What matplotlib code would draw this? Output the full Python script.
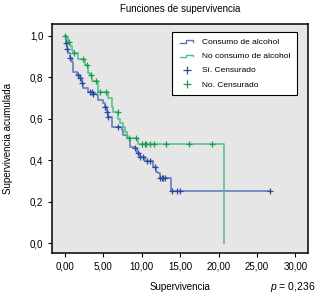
import numpy as np
import matplotlib.pyplot as plt
from matplotlib.legend_handler import HandlerBase
from matplotlib.lines import Line2D

plt.rcParams['font.family'] = ['Liberation Sans', 'DejaVu Sans']
plt.rcParams['mathtext.fontset'] = 'custom'
plt.rcParams['mathtext.it'] = 'Liberation Sans:italic'
plt.rcParams['mathtext.rm'] = 'Liberation Sans'

# Consumo de alcohol: tiempos de evento y supervivencia acumulada
t_si = [0, 0.13, 0.22, 0.43, 0.65, 0.87, 1.08, 1.52, 1.95, 2.17, 2.38, 3.03, 3.68,
        4.13, 4.34, 4.99, 5.21, 5.43, 5.64, 6.08, 7.38, 7.59, 8.11, 8.46, 9.11, 9.41,
        9.77, 10.42, 11.5, 11.85, 12.15, 12.37, 13.74, 26.7]
s_si = [1.0, 0.965, 0.936, 0.916, 0.892, 0.876, 0.828, 0.812, 0.796, 0.771, 0.747,
        0.731, 0.720, 0.715, 0.691, 0.675, 0.658, 0.634, 0.610, 0.562, 0.546, 0.522,
        0.506, 0.465, 0.457, 0.433, 0.417, 0.398, 0.369, 0.345, 0.337, 0.313, 0.253, 0.253]
cens_si = [0.15, 0.25, 0.7, 1.73, 1.98, 2.2, 3.26, 3.5, 3.7, 5.25, 5.45, 5.66, 6.94,
           9.15, 9.45, 9.8, 10.2, 10.64, 11.07, 11.72, 12.4, 12.6, 12.8, 13.0, 13.89,
           14.54, 14.97, 26.7]

# No consumo de alcohol
t_no = [0, 0.13, 0.43, 0.65, 0.87, 1.08, 1.73, 2.60, 3.03, 3.26, 3.48, 4.34, 5.64,
        6.08, 6.29, 6.94, 7.16, 7.59, 7.81, 8.03, 9.55, 20.7]
s_no = [1.0, 0.989, 0.972, 0.952, 0.932, 0.916, 0.887, 0.860, 0.823, 0.812, 0.783,
        0.731, 0.699, 0.658, 0.634, 0.598, 0.578, 0.562, 0.538, 0.509, 0.478, 0.0]
cens_no = [0.05, 0.5, 1.2, 2.3, 2.9, 3.35, 4.0, 4.6, 5.3, 6.9, 8.3, 9.25, 10.0, 10.4,
           10.6, 11.1, 11.6, 13.2, 16.1, 19.2]

xticks = [0, 5, 10, 15, 20, 25, 30]
xticklabels = ['0,00', '5,00', '10,00', '15,00', '20,00', '25,00', '30,00']
yticks = [0, 0.2, 0.4, 0.6, 0.8, 1.0]
yticklabels = ['0,0', '0,2', '0,4', '0,6', '0,8', '1,0']

c_blue = '#5a76b8'
c_blue_d = '#2c48a0'
c_green = '#4cc080'
c_green_d = '#1c9e50'


def surv_at(t, s, c):
    idx = np.searchsorted(t, c, side='right') - 1
    return np.array(s)[idx]


class StepHandler(HandlerBase):
    def create_artists(self, legend, orig_handle, xdescent, ydescent, width, height,
                       fontsize, trans):
        x = np.array([0.1, 0.45, 0.45, 0.85, 0.85]) * width - xdescent
        y = np.array([0.15, 0.15, 0.65, 0.65, 0.4]) * height - ydescent
        ln = Line2D(x, y, color=orig_handle.get_color(), lw=1.0)
        ln.set_transform(trans)
        return [ln]


fig = plt.figure(figsize=(3.22, 3.01), dpi=100)
ax = fig.add_axes([0.1606, 0.1595, 0.796, 0.7608])
ax.set_facecolor('#e6e6e6')

ax.step(t_si, s_si, where='post', color=c_blue, lw=1.3, alpha=0.85)
ax.step(t_no, s_no, where='post', color=c_green, lw=1.3, alpha=0.85)
ax.plot(cens_si, surv_at(t_si, s_si, cens_si), '+', color=c_blue_d, ms=4, mew=0.9)
ax.plot(cens_no, surv_at(t_no, s_no, cens_no), '+', color=c_green_d, ms=4, mew=0.9)

ax.set_xlim(-1.73, 31.64)
ax.set_ylim(-0.048, 1.058)
ax.set_xticks(xticks)
ax.set_xticklabels(xticklabels)
ax.set_yticks(yticks)
ax.set_yticklabels(yticklabels)
ax.tick_params(direction='out', length=3, width=0.8, labelsize=7, pad=3)
for sp in ax.spines.values():
    sp.set_linewidth(1.1)

h1 = Line2D([], [], color=c_blue)
h2 = Line2D([], [], color=c_green)
h3 = Line2D([], [], ls='none', marker='+', color=c_blue_d, ms=6, mew=0.9)
h4 = Line2D([], [], ls='none', marker='+', color=c_green_d, ms=6, mew=0.9)
leg = ax.legend([h1, h2, h3, h4],
                ['Consumo de alcohol', 'No consumo de alcohol', 'Sí. Censurado', 'No. Censurado'],
                handler_map={h1: StepHandler(), h2: StepHandler()},
                loc='upper right', bbox_to_anchor=(0.957, 0.966), borderaxespad=0,
                fontsize=6, fancybox=False, framealpha=1, edgecolor='black',
                handlelength=2.0, labelspacing=0.75, borderpad=0.8, handletextpad=0.8)
leg.get_frame().set_linewidth(0.8)

fig.text(0.56, 1 - 9 / 301, 'Funciones de supervivencia', ha='center', va='center', fontsize=7)
fig.text(0.56, 1 - 287 / 301, 'Supervivencia', ha='center', va='center', fontsize=7)
fig.text(0.98, 1 - 287 / 301, '$p$ = 0,236', ha='right', va='center', fontsize=7.5)
fig.text(8.5 / 322, 1 - 139 / 301, 'Supervivencia acumulada', ha='center', va='center',
         rotation=90, fontsize=7)

fig.savefig('out.png', dpi=100)
